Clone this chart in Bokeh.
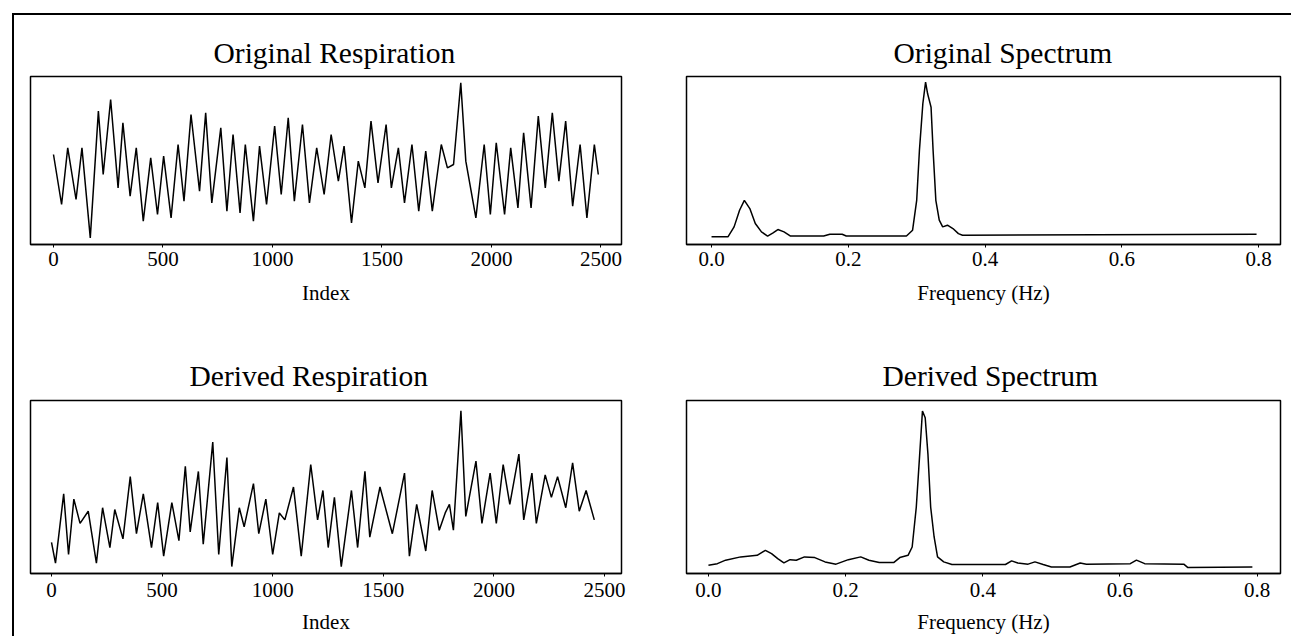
from bokeh.plotting import figure
from bokeh.layouts import column, row
from bokeh.models import FixedTicker, NumeralTickFormatter, Range1d
from bokeh.embed import file_html
from bokeh.resources import INLINE

# ---------------- data ----------------
orig_resp_idx = [0, 37, 65, 103, 130, 168, 205, 227, 261, 295, 317, 350, 378, 410, 444, 475,
                 503, 537, 569, 596, 628, 667, 695, 723, 764, 792, 820, 852, 876, 913, 941, 973,
                 1010, 1040, 1072, 1100, 1137, 1169, 1202, 1236, 1268, 1301, 1327, 1361, 1392,
                 1422, 1450, 1482, 1519, 1543, 1575, 1603, 1637, 1668, 1700, 1730, 1771, 1799,
                 1827, 1860, 1883, 1929, 1967, 1995, 2022, 2060, 2088, 2121, 2147, 2181, 2214,
                 2246, 2278, 2308, 2339, 2371, 2405, 2436, 2470, 2488]
orig_resp_val = [54, 24, 58, 27, 58, 4, 80, 42, 87, 34, 73, 29, 58, 14, 52, 18,
                 53, 16, 60, 26, 78, 32, 79, 25, 70, 20, 66, 19, 60, 14, 59, 24,
                 71, 30, 76, 26, 72, 25, 58, 30, 66, 38, 59, 13, 50,
                 34, 74, 37, 72, 34, 58, 25, 60, 20, 56, 20, 60, 46,
                 48, 97, 50, 16, 60, 18, 61, 18, 58, 22, 67, 22, 77,
                 34, 79, 38, 74, 23, 60, 16, 60, 42]

der_resp_idx = [0, 18, 55, 77, 101, 129, 166, 203, 231, 264, 286, 323, 356, 384, 415, 452,
                480, 507, 544, 576, 605, 627, 664, 686, 729, 756, 793, 815, 849, 871, 913, 937,
                969, 1000, 1030, 1055, 1094, 1129, 1172, 1203, 1227, 1251, 1279, 1310, 1356,
                1384, 1417, 1439, 1485, 1541, 1596, 1618, 1651, 1692, 1721, 1753, 1780, 1799,
                1817, 1851, 1873, 1919, 1946, 1983, 2011, 2042, 2072, 2113, 2135, 2172, 2192,
                2232, 2260, 2288, 2325, 2356, 2386, 2417, 2454]
der_resp_val = [18, 6, 46, 11, 43, 29, 36, 6, 38, 15, 37, 20, 56, 23, 46, 15,
                41, 10, 41, 19, 62, 24, 59, 17, 76, 11, 67, 4, 38, 27, 52, 23,
                43, 11, 35, 31, 50, 10, 63, 31, 48, 15, 44, 4, 48,
                15, 59, 21, 50, 23, 58, 10, 40, 13, 48, 25, 35, 40,
                25, 94, 33, 65, 29, 58, 29, 63, 40, 69, 31, 58, 29,
                57, 44, 56, 38, 64, 36, 48, 31]

orig_spec_f = [0.0, 0.024, 0.033, 0.041, 0.048, 0.056, 0.064, 0.073, 0.082, 0.090, 0.097,
               0.106, 0.115, 0.164, 0.173, 0.191, 0.197, 0.285, 0.294, 0.300, 0.304, 0.309,
               0.313, 0.316, 0.321, 0.324, 0.328, 0.333, 0.338, 0.345, 0.353, 0.361, 0.367, 0.797]
orig_spec_p = [4.6, 4.6, 10.5, 20.4, 26.3, 21.4, 12.5, 7.5, 5.0, 6.9, 8.9,
               7.5, 5.1, 5.1, 6.1, 6.1, 5.1, 5.1, 8.5, 26.3, 56.0, 83.8,
               96.6, 89.7, 81.8, 56.0, 26.3, 14.5, 10.5, 11.5, 9.5, 6.5, 5.5, 6.1]

der_spec_f = [0.0, 0.013, 0.025, 0.047, 0.071, 0.083, 0.092, 0.101, 0.110, 0.119, 0.128,
              0.140, 0.155, 0.170, 0.186, 0.204, 0.222, 0.234, 0.249, 0.270, 0.279, 0.291,
              0.297, 0.303, 0.308, 0.312, 0.316, 0.320, 0.324, 0.329, 0.334, 0.343, 0.355,
              0.433, 0.442, 0.451, 0.466, 0.476, 0.488, 0.500, 0.527, 0.542, 0.551, 0.615,
              0.624, 0.636, 0.693, 0.699, 0.793]
der_spec_p = [4.8, 5.7, 7.7, 9.6, 10.5, 13.4, 11.5, 8.6, 6.1, 8.0, 7.7,
              9.6, 9.2, 6.7, 5.4, 8.0, 9.6, 7.7, 6.3, 6.3, 9.2, 10.5,
              15.3, 38.3, 69.0, 93.9, 90.0, 69.0, 38.3, 21.1, 9.6, 6.7, 5.2,
              5.2, 7.3, 6.1, 5.4, 6.7, 5.2, 3.8, 3.8, 6.1, 5.4, 5.7,
              7.7, 5.7, 5.4, 3.4, 3.8]

index_ticks = [0, 500, 1000, 1500, 2000, 2500]
freq_ticks = [0.0, 0.2, 0.4, 0.6, 0.8]

titles = ["Original Respiration", "Original Spectrum", "Derived Respiration", "Derived Spectrum"]
xlabels = ["Index", "Frequency (Hz)"]

FONT = "Liberation Serif"


def make(title, xs, ys, xr, yr, ticks, fmt, xlabel, fw, fh, bl, br, bt, bb,
         title_offset, title_standoff, tick_standoff, label_standoff):
    p = figure(frame_width=fw, frame_height=fh,
               min_border_left=bl, min_border_right=br,
               min_border_top=bt, min_border_bottom=bb,
               x_range=Range1d(*xr), y_range=Range1d(*yr),
               output_backend="svg", toolbar_location=None, title=title)
    p.line(xs, ys, line_color="black", line_width=1.5)
    p.grid.visible = False
    p.yaxis.visible = False
    p.outline_line_color = "black"
    p.outline_line_width = 1.5
    p.background_fill_color = "white"
    p.border_fill_color = "white"
    p.title.text_font = FONT
    p.title.text_font_size = "29.5px"
    p.title.text_font_style = "normal"
    p.title.text_color = "black"
    p.title.align = "left"
    p.title.offset = title_offset
    p.title.standoff = title_standoff
    ax = p.xaxis[0]
    ax.ticker = FixedTicker(ticks=ticks)
    if fmt:
        ax.formatter = NumeralTickFormatter(format=fmt)
    ax.axis_line_color = "black"
    ax.axis_line_width = 1.5
    ax.major_tick_in = 0
    ax.major_tick_out = 3
    ax.minor_tick_line_color = None
    ax.major_label_standoff = tick_standoff
    ax.major_label_text_font = FONT
    ax.major_label_text_font_size = "21px"
    ax.major_label_text_color = "black"
    ax.axis_label = xlabel
    ax.axis_label_text_font = FONT
    ax.axis_label_text_font_size = "21px"
    ax.axis_label_text_font_style = "normal"
    ax.axis_label_text_color = "black"
    ax.axis_label_standoff = label_standoff
    return p


p1 = make(titles[0], orig_resp_idx, orig_resp_val, (-105, 2594), (0, 100.8), index_ticks, None,
          xlabels[0], 591, 168, 16, 29, 61, 74, 183, 15, 4, 12)
p2 = make(titles[1], orig_spec_f, orig_spec_p, (-0.0366, 0.832), (0, 100), freq_ticks, "0.0",
          xlabels[1], 594, 168, 36, 11, 61, 74, 207, 15, 4, 12)
p3 = make(titles[2], der_resp_idx, der_resp_val, (-95, 2577), (0, 100), index_ticks, None,
          xlabels[0], 591, 173, 16, 29, 82, 62, 159, 18, 6, 10)
p4 = make(titles[3], der_spec_f, der_spec_p, (-0.032, 0.834), (0, 100), freq_ticks, "0.0",
          xlabels[1], 594, 173, 36, 11, 82, 62, 196, 18, 6, 10)

layout = column(row(p1, p2), row(p3, p4), margin=(13, 0, 0, 12),
                styles={"border-left": "2px solid #000", "border-top": "2px solid #000"})

open("out.html", "w").write(file_html(layout, INLINE))
